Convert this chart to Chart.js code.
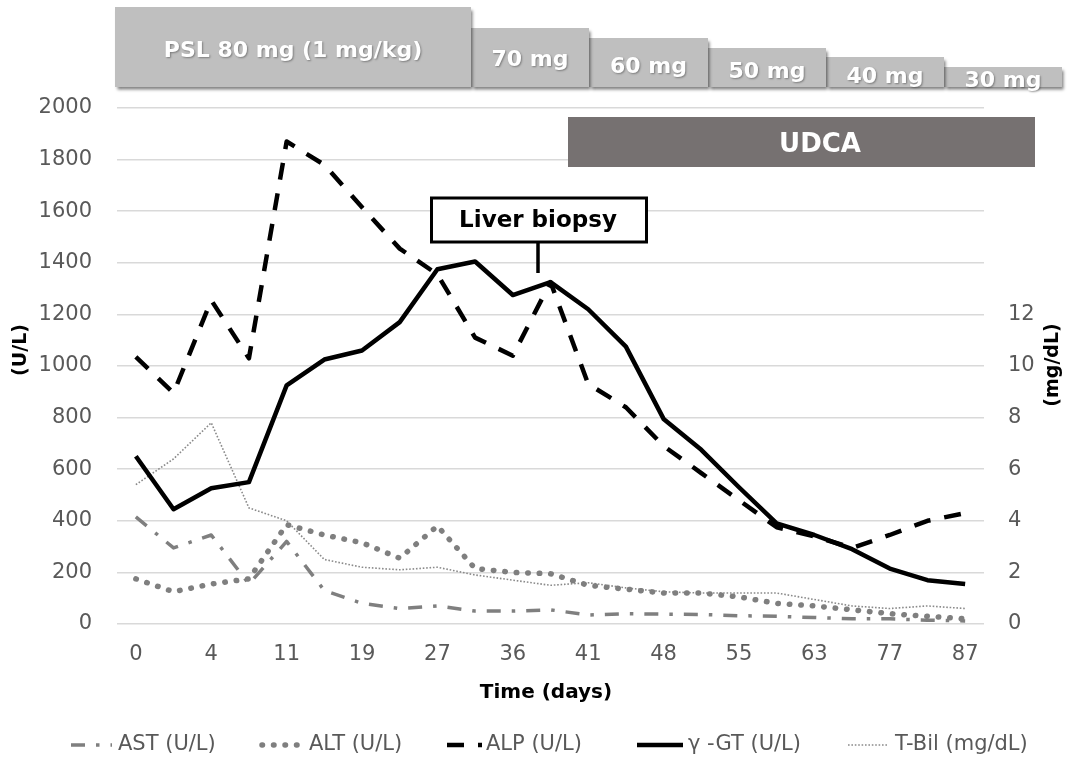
<!DOCTYPE html>
<html><head><meta charset="utf-8">
<script src="https://cdn.jsdelivr.net/npm/chart.js@4.4.0/dist/chart.umd.min.js"></script>
<style>html,body{margin:0;padding:0;background:#fff;}#wrap{width:1068px;height:762px;}</style>
</head><body><div id="wrap"><canvas id="c" width="1068" height="762"></canvas></div>
<script>
// ---- data ----
const tickLabels = ['0','4','11','19','27','36','41','48','55','63','77','87'];
const astValues  = [415,295,345,155,320,130,80,60,70,50,50,55,35,40,38,37,32,30,25,20,20,15,12];
const altValues  = [175,125,155,175,385,345,315,255,380,215,200,195,150,135,120,120,105,80,70,55,40,30,20];
const alpValues  = [1035,895,1255,1030,1870,1780,1615,1455,1355,1110,1040,1325,930,840,690,585,480,375,340,295,345,400,430];
const ggtValues  = [650,445,526,550,925,1025,1060,1170,1375,1405,1275,1325,1220,1075,795,675,530,390,345,290,215,170,155];
const tbilValues = [5.4,6.4,7.8,4.5,4.0,2.5,2.2,2.1,2.2,1.9,1.7,1.5,1.6,1.4,1.25,1.2,1.2,1.2,0.95,0.7,0.6,0.7,0.6];
const rightTicks = [0,2,4,6,8,10,12];
const doseLabels = ['PSL 80 mg (1 mg/kg)','70 mg','60 mg','50 mg','40 mg','30 mg'];
const seriesNames = ['AST (U/L)','ALT (U/L)','ALP (U/L)','\u03b3 -GT (U/L)','T-Bil (mg/dL)'];

// 23 measurement points, every other one labelled
const categories = [];
tickLabels.forEach((t,i)=>{ categories.push(t); if(i<tickLabels.length-1) categories.push(''); });

const FONT = '"DejaVu Sans"';
const styles = [
  {color:'#7f7f7f', width:3.5, dash:[14,11,3.5,11], cap:'butt'},
  {color:'#7f7f7f', width:5.5, dash:[0.5,11], cap:'round'},
  {color:'#000000', width:4.5, dash:[17,14], cap:'butt'},
  {color:'#000000', width:4.5, dash:[], cap:'butt'},
  {color:'#8a8a8a', width:1.6, dash:[1.6,1.8], cap:'butt'}
];
const seriesData = [astValues, altValues, alpValues, ggtValues, tbilValues];
const orders = [3,2,1,0,4];

const datasets = seriesData.map((d,i)=>({
  label: seriesNames[i], data: d,
  yAxisID: i===4 ? 'y2' : 'y',
  borderColor: styles[i].color, borderWidth: styles[i].width,
  borderDash: styles[i].dash, borderCapStyle: styles[i].cap,
  borderJoinStyle: 'round',
  pointRadius: 0, tension: 0, fill: false, order: orders[i]
}));

const annot = {
  id: 'annot',
  afterDatasetsDraw(chart){
    const ctx = chart.ctx;
    ctx.save();
    // PSL dose boxes
    const boxes = [[115,471,7],[471,589,28],[589,708,38],[708,826,48],[826,944,57],[944,1062,67]];
    const base = [57,66,73,78,83,87];
    const bottom = 87;
    for(let i=boxes.length-1;i>=0;i--){
      const [x0,x1,t] = boxes[i];
      ctx.save();
      ctx.shadowColor='rgba(0,0,0,0.5)'; ctx.shadowBlur=3; ctx.shadowOffsetX=1.5; ctx.shadowOffsetY=2.5;
      ctx.fillStyle='#bfbfbf'; ctx.fillRect(x0,t,x1-x0,bottom-t);
      ctx.restore();
    }
    ctx.save();
    ctx.font = 'bold 22px '+FONT; ctx.fillStyle='#ffffff'; ctx.textAlign='center'; ctx.textBaseline='alphabetic';
    ctx.shadowColor='rgba(0,0,0,0.35)'; ctx.shadowBlur=2; ctx.shadowOffsetX=1; ctx.shadowOffsetY=1;
    boxes.forEach((b,i)=>ctx.fillText(doseLabels[i],(b[0]+b[1])/2,base[i]));
    ctx.restore();

    // UDCA bar
    ctx.fillStyle='#767171'; ctx.fillRect(568,117,467,50);
    ctx.font='bold 26px '+FONT; ctx.fillStyle='#fff'; ctx.textAlign='center'; ctx.textBaseline='alphabetic';
    ctx.fillText('UDCA',820,152);

    // Liver biopsy callout
    ctx.fillStyle='#fff'; ctx.fillRect(431.5,198,215,44);
    ctx.strokeStyle='#000'; ctx.lineWidth=3; ctx.strokeRect(431.5,198,215,44);
    ctx.beginPath(); ctx.moveTo(538,242); ctx.lineTo(538,273); ctx.lineWidth=3.5; ctx.stroke();
    ctx.fillStyle='#000'; ctx.font='bold 23px '+FONT; ctx.fillText('Liver biopsy',538,227);

    // axis titles
    ctx.font='bold 19px '+FONT; ctx.textBaseline='middle';
    ctx.save(); ctx.translate(21,350); ctx.rotate(-Math.PI/2); ctx.fillText('(U/L)',0,0); ctx.restore();
    ctx.save(); ctx.translate(1053,365); ctx.rotate(-Math.PI/2); ctx.fillText('(mg/dL)',0,0); ctx.restore();
    ctx.font='bold 20px '+FONT; ctx.fillText('Time (days)',546,693);

    // legend
    const leg = [[71,112,118],[262,304,309],[447,482,486],[637,683,688],[848,888,895]];
    const ly = 745;
    leg.forEach((L,i)=>{
      const s = styles[i];
      ctx.save();
      ctx.strokeStyle=s.color; ctx.lineWidth=s.width; ctx.setLineDash(s.dash); ctx.lineCap=s.cap;
      ctx.beginPath(); ctx.moveTo(L[0],ly); ctx.lineTo(L[1],ly); ctx.stroke();
      ctx.restore();
      ctx.font='21px '+FONT; ctx.fillStyle='#595959'; ctx.textAlign='left'; ctx.textBaseline='middle';
      ctx.fillText(seriesNames[i],L[2],ly);
    });
    ctx.restore();
  }
};

const tickFont = { family: 'DejaVu Sans', size: 21 };
new Chart(document.getElementById('c'), {
  type: 'line',
  data: { labels: categories, datasets },
  plugins: [annot],
  options: {
    responsive: false, animation: false, devicePixelRatio: 1,
    layout: { padding: { top: 108, left: 0, right: 0, bottom: 0 } },
    plugins: { legend: { display: false }, tooltip: { enabled: false } },
    scales: {
      x: {
        type: 'category', offset: true,
        grid: { display: false, drawTicks: false }, border: { display: false },
        ticks: { autoSkip: false, maxRotation: 0, minRotation: 0, padding: 18, color: '#595959', font: tickFont },
        afterFit(s){ s.height = 138; }
      },
      y: {
        position: 'left', min: 0, max: 2000,
        grid: { color: '#d9d9d9', lineWidth: 1.5, drawTicks: false }, border: { display: false },
        ticks: { stepSize: 200, padding: 25, color: '#595959', font: tickFont, callback: v => String(v) },
        afterFit(s){ s.width = 117; }
      },
      y2: {
        position: 'right', min: 0, max: 20,
        grid: { display: false, drawTicks: false }, border: { display: false },
        ticks: { stepSize: 2, padding: 24, color: '#595959', font: tickFont, callback: v => String(v) },
        afterBuildTicks(s){ s.ticks = rightTicks.map(v=>({value:v})); },
        afterFit(s){ s.width = 84; }
      }
    }
  }
});
</script></body></html>
